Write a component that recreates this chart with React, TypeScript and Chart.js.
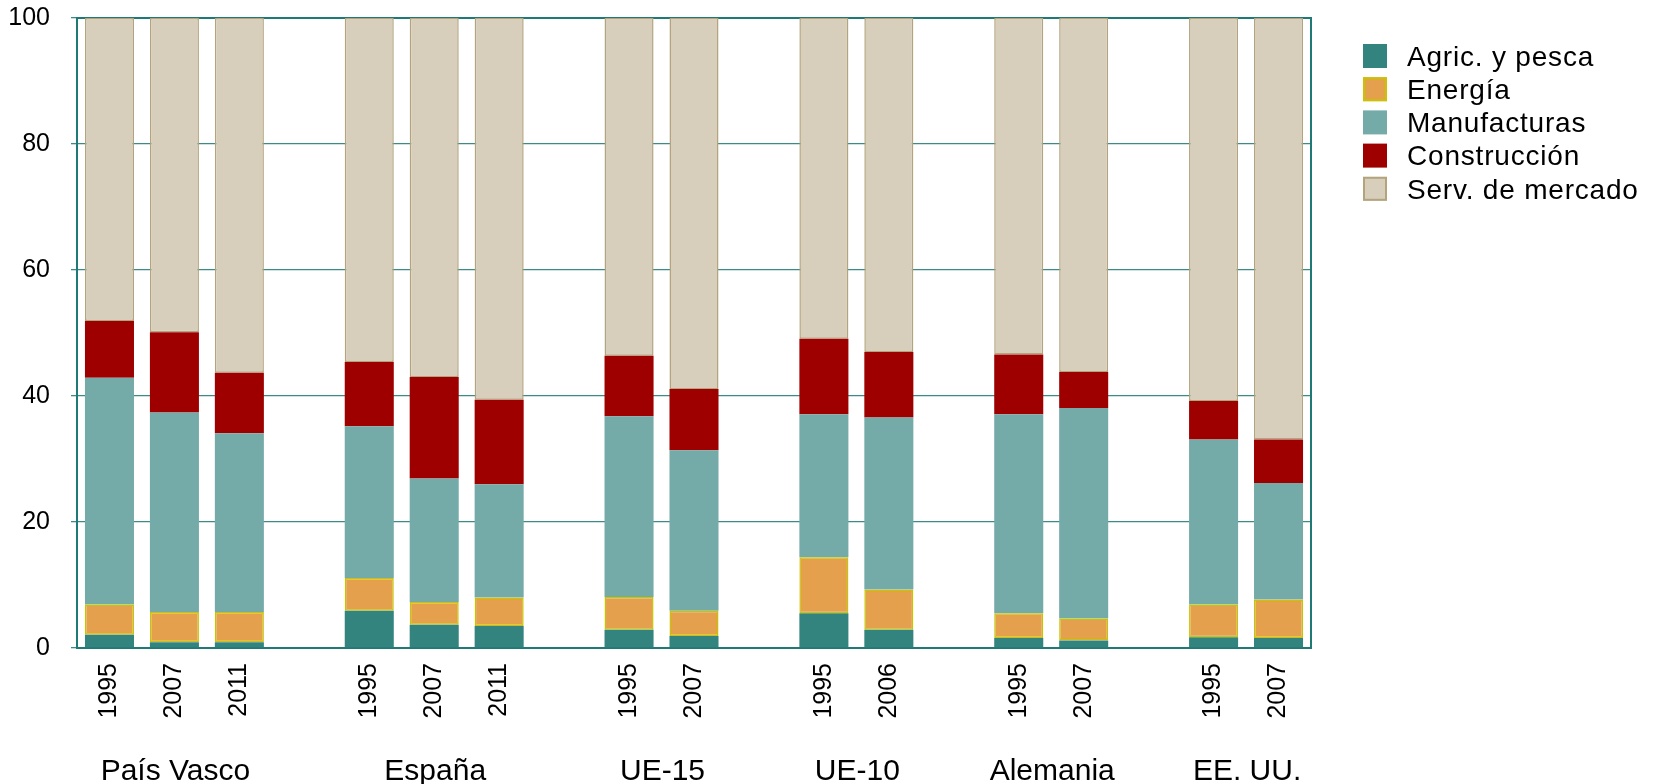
import React, { useEffect, useRef } from "react";
import { Chart, registerables } from "chart.js";

Chart.register(...registerables);

const yearLabels = ["1995", "2007", "2011", "", "1995", "2007", "2011", "", "1995", "2007", "", "1995", "2006", "", "1995", "2007", "", "1995", "2007"];
const groupNames = ["País Vasco", "España", "UE-15", "UE-10", "Alemania", "EE. UU."];
const groupRanges = [[0, 2], [4, 6], [8, 9], [11, 12], [14, 15], [17, 18]];

const agric = [2.1, 0.9, 0.9, null, 5.9, 3.7, 3.5, null, 2.9, 1.9, null, 5.5, 2.9, null, 1.6, 1.2, null, 1.7, 1.6];
const energia = [4.8, 4.8, 4.8, null, 5.2, 3.6, 4.5, null, 5.2, 4.0, null, 8.9, 6.4, null, 3.9, 3.5, null, 5.2, 6.1];
const manuf = [36.0, 31.7, 28.4, null, 24.1, 19.6, 18.0, null, 28.7, 25.5, null, 22.7, 27.3, null, 31.6, 33.4, null, 26.2, 18.5];
const constr = [9.0, 12.7, 9.6, null, 10.2, 16.1, 13.4, null, 9.6, 9.7, null, 12.0, 10.4, null, 9.5, 5.7, null, 6.1, 6.9];
const serv = [48.1, 49.9, 56.3, null, 54.6, 57.0, 60.6, null, 53.6, 58.9, null, 50.9, 53.0, null, 53.4, 56.2, null, 60.8, 66.9];

const yTicks = [0, 20, 40, 60, 80, 100];

const SANS = '"Liberation Sans", Arial, sans-serif';

const framePlugin = {
  id: "frame",
  beforeDatasetsDraw(chart: any) {
    const { ctx, chartArea } = chart;
    ctx.save();
    ctx.strokeStyle = "#1f7a75";
    ctx.lineWidth = 2;
    ctx.strokeRect(chartArea.left, chartArea.top, chartArea.right - chartArea.left, chartArea.bottom - chartArea.top);
    ctx.restore();
  },
};

const groupLabelPlugin = {
  id: "groupLabels",
  afterDraw(chart: any) {
    const { ctx } = chart;
    const x = chart.scales.x;
    ctx.save();
    ctx.font = `30px ${SANS}`;
    ctx.fillStyle = "#000";
    ctx.textAlign = "center";
    ctx.textBaseline = "alphabetic";
    groupNames.forEach((name, i) => {
      const [a, b] = groupRanges[i];
      const cx = (x.getPixelForValue(a) + x.getPixelForValue(b)) / 2;
      ctx.fillText(name, cx + 1, 780);
    });
    ctx.restore();
  },
};

const legendPlugin = {
  id: "customLegend",
  afterDraw(chart: any) {
    const { ctx } = chart;
    ctx.save();
    ctx.font = `28px ${SANS}`;
    try {
      (ctx as any).letterSpacing = "0.8px";
    } catch (e) {}
    ctx.textBaseline = "middle";
    ctx.textAlign = "left";
    chart.data.datasets.forEach((ds: any, i: number) => {
      const bx = 1363;
      const by = 44 + i * 33.2;
      ctx.fillStyle = ds.backgroundColor;
      ctx.fillRect(bx, by, 24, 24);
      if (ds.borderWidth > 0) {
        ctx.strokeStyle = ds.borderColor;
        ctx.lineWidth = 2;
        ctx.strokeRect(bx + 1, by + 1, 22, 22);
      }
      ctx.fillStyle = "#000";
      ctx.fillText(ds.label, 1407, by + 14);
    });
    ctx.restore();
  },
};

export default function App() {
  const ref = useRef<HTMLCanvasElement>(null);
  useEffect(() => {
    if (!ref.current) return;
    const mk = (label: string, data: any[], bg: string, border: string, bw: number) => ({
      label,
      data,
      backgroundColor: bg,
      borderColor: border,
      borderWidth: bw,
      borderSkipped: false,
      categoryPercentage: 1,
      barPercentage: 0.755,
    });
    const chart = new Chart(ref.current, {
      type: "bar",
      data: {
        labels: yearLabels,
        datasets: [
          mk("Agric. y pesca", agric, "#33837f", "#33837f", 0),
          mk("Energía", energia, "#e5a04e", "#c8c400", 1.5),
          mk("Manufacturas", manuf, "#74aba9", "#74aba9", 0),
          mk("Construcción", constr, "#9e0000", "#9e0000", 0),
          mk("Serv. de mercado", serv, "#d7cfbc", "#b3a47e", 1.5),
        ],
      },
      options: {
        animation: false,
        responsive: false,
        maintainAspectRatio: false,
        layout: { padding: { left: 0, top: 0, right: 354, bottom: 0 } },
        plugins: { legend: { display: false }, tooltip: { enabled: false } },
        scales: {
          x: {
            stacked: true,
            grid: { display: false, drawTicks: false },
            border: { display: false },
            ticks: {
              autoSkip: false,
              maxRotation: 90,
              minRotation: 90,
              padding: 15,
              color: "#000",
              font: { family: SANS, size: 25 },
            },
            afterFit(scale: any) {
              scale.height = 136;
            },
          },
          y: {
            stacked: true,
            min: 0,
            max: 100,
            afterBuildTicks(scale: any) {
              scale.ticks = yTicks.map((v) => ({ value: v }));
            },
            grid: { color: "#3d8b87", lineWidth: 1.3, tickLength: 6 },
            border: { display: false },
            ticks: {
              padding: 21,
              color: "#000",
              font: { family: SANS, size: 25 },
            },
            afterFit(scale: any) {
              scale.width = 77;
              scale.paddingTop = 18;
              scale.paddingBottom = 0;
            },
          },
        },
      },
      plugins: [framePlugin, groupLabelPlugin, legendPlugin],
    });
    return () => chart.destroy();
  }, []);
  return (
    <div style={{ position: "absolute", left: 0, top: 0, width: 1665, height: 784 }}>
      <canvas ref={ref} width={1665} height={784} style={{ width: 1665, height: 784, display: "block" }} />
    </div>
  );
}
